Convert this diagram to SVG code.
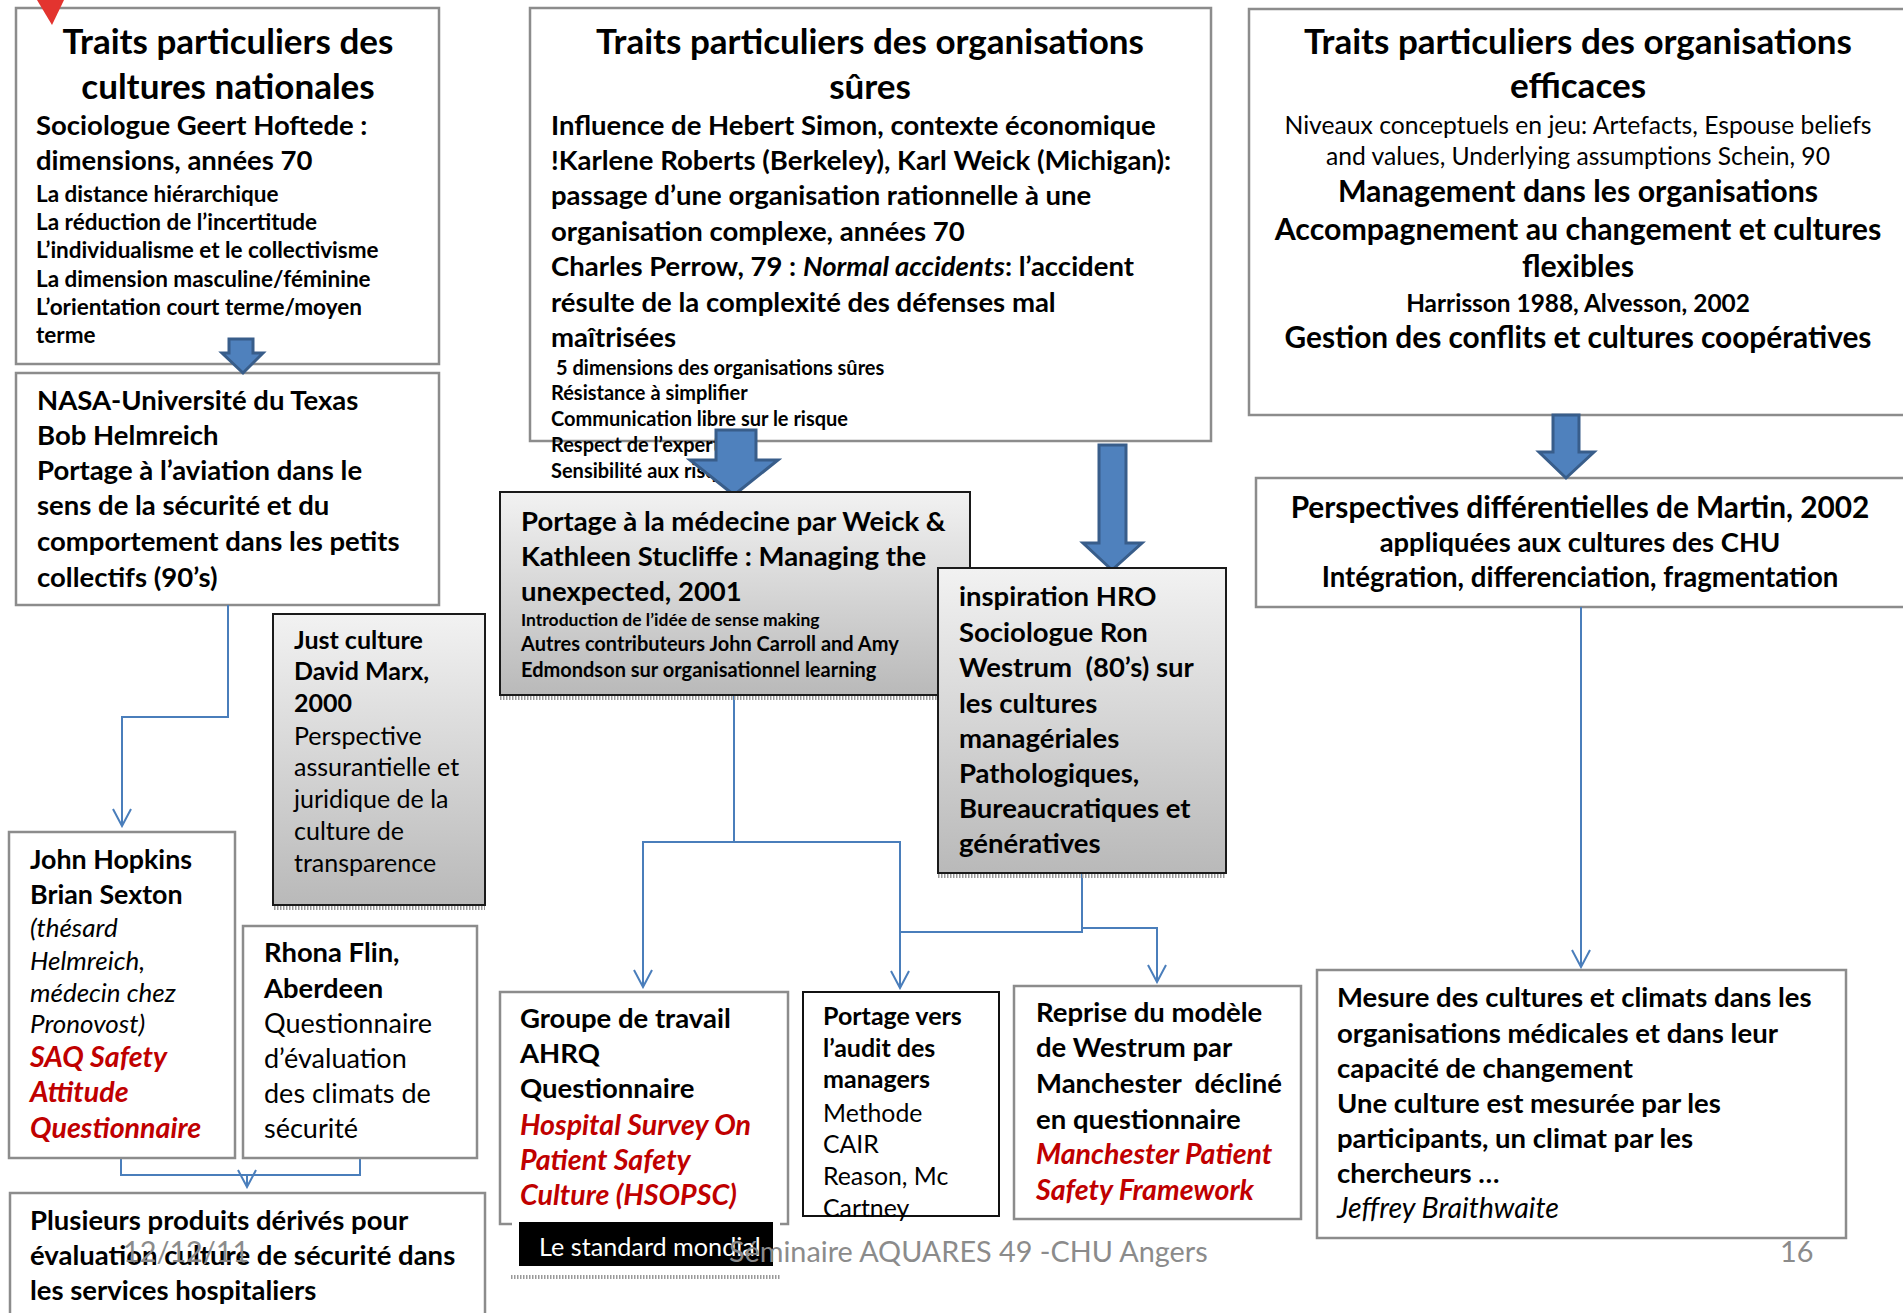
<svg xmlns="http://www.w3.org/2000/svg" width="1903" height="1313" viewBox="0 0 1903 1313">
<defs>
<linearGradient id="g" x1="0" y1="0" x2="0" y2="1">
<stop offset="0" stop-color="#f2f2f2"/>
<stop offset="1" stop-color="#b9b9b9"/>
</linearGradient>
<marker id="v" viewBox="-19 -11 21 22" refX="0" refY="0" markerWidth="21" markerHeight="22" markerUnits="userSpaceOnUse" orient="auto">
<path d="M-17,-9 L0,0 L-17,9" fill="none" stroke="#4a7ebb" stroke-width="2"/>
</marker>
<style>
text{font-family:Lato,"Open Sans","Liberation Sans",sans-serif;fill:#000}
.b{font-weight:bold}
.i{font-style:italic}
.red{fill:#c00000}
.c{text-anchor:middle}
.ti{font-size:35px;font-weight:bold}
.m{font-size:27.5px;font-weight:bold}
.s{font-size:20px;font-weight:bold}
.s1{font-size:22.5px;font-weight:bold}
.box{fill:#fff;stroke:#8c8c8c;stroke-width:2.5}
.gbox{fill:url(#g);stroke:#1a1a1a;stroke-width:2}
.shd{stroke:#9a9a9a;stroke-width:4;stroke-dasharray:1.5 1.5;fill:none}
.conn{fill:none;stroke:#4a7ebb;stroke-width:2}
.blk{fill:#4f81bd;stroke:#385d8a;stroke-width:3}
.ft{font-size:28.8px;fill:#8b8b8b}
.bd{font-size:27.5px;font-weight:bold}
.rd{font-size:28.6px;font-weight:bold;font-style:italic;fill:#c00000}
</style>
</defs>
<rect width="1903" height="1313" fill="#fff"/>

<g id="n-cultures-nationales">
<rect class="box" x="16" y="8" width="423" height="356"/>
<text class="ti c" x="228" y="54">Traits particuliers des</text>
<text class="ti c" x="228" y="99">cultures nationales</text>
<text class="m" x="36" y="135">Sociologue Geert Hoftede :</text>
<text class="m" x="36" y="170">dimensions, années 70</text>
<text class="s1" x="36" y="202">La distance hiérarchique</text>
<text class="s1" x="36" y="230">La réduction de l’incertitude</text>
<text class="s1" x="36" y="258">L’individualisme et le collectivisme</text>
<text class="s1" x="36" y="287">La dimension masculine/féminine</text>
<text class="s1" x="36" y="315">L’orientation court terme/moyen</text>
<text class="s1" x="36" y="343">terme</text>
</g>
<polygon points="37,0 64,0 52,25" fill="#e3342f"/>

<g id="n-nasa">
<rect class="box" x="16" y="373" width="423" height="232"/>
<text class="m" x="37" y="410">NASA-Université du Texas</text>
<text class="m" x="37" y="445">Bob Helmreich</text>
<text class="m" x="37" y="480">Portage à l’aviation dans le</text>
<text class="m" x="37" y="515">sens de la sécurité et du</text>
<text class="m" x="37" y="551">comportement dans les petits</text>
<text class="m" x="37" y="587">collectifs (90’s)</text>
</g>

<g id="n-organisations-sures">
<rect class="box" x="530" y="8" width="681" height="433"/>
<text class="ti c" x="870" y="54">Traits particuliers des organisations</text>
<text class="ti c" x="870" y="99">sûres</text>
<text class="m" x="551" y="135">Influence de Hebert Simon, contexte économique</text>
<text class="m" x="551" y="170">!Karlene Roberts (Berkeley), Karl Weick (Michigan):</text>
<text class="m" x="551" y="205">passage d’une organisation rationnelle à une</text>
<text class="m" x="551" y="241">organisation complexe, années 70</text>
<text class="m" x="551" y="276">Charles Perrow, 79 : <tspan class="i">Normal accidents</tspan>: l’accident</text>
<text class="m" x="551" y="312">résulte de la complexité des défenses mal</text>
<text class="m" x="551" y="347">maîtrisées</text>
<text class="s" x="556" y="375">5 dimensions des organisations sûres</text>
<text class="s" x="551" y="400">Résistance à simplifier</text>
<text class="s" x="551" y="426">Communication libre sur le risque</text>
<text class="s" x="551" y="452">Respect de l’expertise</text>
<text class="s" x="551" y="478">Sensibilité aux risques</text>
</g>

<g id="n-organisations-efficaces">
<rect class="box" x="1249" y="9" width="665" height="406"/>
<text class="ti c" x="1578" y="54">Traits particuliers des organisations</text>
<text class="ti c" x="1578" y="98">efficaces</text>
<text class="c" x="1578" y="134" style="font-size:24.7px">Niveaux conceptuels en jeu: Artefacts, Espouse beliefs</text>
<text class="c" x="1578" y="165" style="font-size:24.7px">and values, Underlying assumptions Schein, 90</text>
<text class="b c" x="1578" y="202" style="font-size:30.3px">Management dans les organisations</text>
<text class="b c" x="1578" y="240" style="font-size:30.3px">Accompagnement au changement et cultures</text>
<text class="b c" x="1578" y="277" style="font-size:30.3px">flexibles</text>
<text class="b c" x="1578" y="312" style="font-size:24.4px">Harrisson 1988, Alvesson, 2002</text>
<text class="b c" x="1578" y="348" style="font-size:29.8px">Gestion des conflits et cultures coopératives</text>
</g>

<g id="n-martin">
<rect class="box" x="1256" y="478" width="660" height="129"/>
<text class="b c" x="1580" y="518" style="font-size:29.8px">Perspectives différentielles de Martin, 2002</text>
<text class="b c" x="1580" y="552" style="font-size:27.4px">appliquées aux cultures des CHU</text>
<text class="b c" x="1580" y="587" style="font-size:27.6px">Intégration, differenciation, fragmentation</text>
</g>

<g id="connectors">
<path class="blk" d="M229,339 H253 V353 H263 L243,373 L222,353 H229 Z"/>
<path class="blk" d="M716,430 H756 V460 H778 L734,495 L690,460 H716 Z"/>
<path class="blk" d="M1099,445 H1126 V543 H1142 L1112,570 L1083,543 H1099 Z"/>
<path class="blk" d="M1553,415 H1579 V452 H1594 L1566,478 L1539,452 H1553 Z"/>
<path class="conn" d="M228,605 V717 H122 V826" marker-end="url(#v)"/>
<path class="conn" d="M734,695 V842 H643 V987" marker-end="url(#v)"/>
<path class="conn" d="M734,842 H900 V988" marker-end="url(#v)"/>
<path class="conn" d="M1082,873 V932 H900"/>
<path class="conn" d="M1082,928 H1157 V982" marker-end="url(#v)"/>
<path class="conn" d="M1581,607 V967" marker-end="url(#v)"/>
<path class="conn" d="M121,1158 V1175 H360 V1158"/>
<path class="conn" d="M247,1175 V1187" marker-end="url(#v)"/>
</g>

<g id="n-portage-medecine">
<line class="shd" x1="500" y1="698" x2="940" y2="698"/>
<rect class="gbox" x="500" y="492" width="470" height="203"/>
<text class="m" x="521" y="531">Portage à la médecine par Weick &amp;</text>
<text class="m" x="521" y="566">Kathleen Stucliffe : Managing the</text>
<text class="m" x="521" y="601">unexpected, 2001</text>
<text class="b" x="521" y="626" style="font-size:17.5px">Introduction de l’idée de sense making</text>
<text class="b" x="521" y="651" style="font-size:20px">Autres contributeurs John Carroll and Amy</text>
<text class="b" x="521" y="677" style="font-size:20px">Edmondson sur organisationnel learning</text>
</g>

<g id="n-hro">
<line class="shd" x1="938" y1="876" x2="1226" y2="876"/>
<rect class="gbox" x="938" y="568" width="288" height="305"/>
<text class="bd" x="959" y="606">inspiration HRO</text>
<text class="bd" x="959" y="642">Sociologue Ron</text>
<text class="bd" x="959" y="677" xml:space="preserve">Westrum  (80’s) sur</text>
<text class="bd" x="959" y="713">les cultures</text>
<text class="bd" x="959" y="748">managériales</text>
<text class="bd" x="959" y="783">Pathologiques,</text>
<text class="bd" x="959" y="818">Bureaucratiques et</text>
<text class="bd" x="959" y="853">génératives</text>
</g>

<g id="n-just-culture">
<line class="shd" x1="274" y1="908" x2="485" y2="908"/>
<rect class="gbox" x="273" y="614" width="212" height="291"/>
<text class="b" x="294" y="649" style="font-size:25px">Just culture</text>
<text class="b" x="294" y="680" style="font-size:25px">David Marx,</text>
<text class="b" x="294" y="712" style="font-size:25px">2000</text>
<text x="294" y="745" style="font-size:25px">Perspective</text>
<text x="294" y="776" style="font-size:25px">assurantielle et</text>
<text x="294" y="808" style="font-size:25px">juridique de la</text>
<text x="294" y="840" style="font-size:25px">culture de</text>
<text x="294" y="872" style="font-size:25px">transparence</text>
</g>

<g id="n-john-hopkins">
<rect class="box" x="9" y="832" width="226" height="326"/>
<text class="b" x="30" y="869" style="font-size:26.8px">John Hopkins</text>
<text class="b" x="30" y="904" style="font-size:26.8px">Brian Sexton</text>
<text class="i" x="30" y="937" style="font-size:26px">(thésard</text>
<text class="i" x="30" y="970" style="font-size:26px">Helmreich,</text>
<text class="i" x="30" y="1002" style="font-size:26px">médecin chez</text>
<text class="i" x="30" y="1033" style="font-size:26px">Pronovost)</text>
<text class="rd" x="30" y="1067">SAQ Safety</text>
<text class="rd" x="30" y="1102">Attitude</text>
<text class="rd" x="30" y="1138">Questionnaire</text>
</g>

<g id="n-rhona-flin">
<rect class="box" x="243" y="926" width="234" height="232"/>
<text class="b" x="264" y="962" style="font-size:27.4px">Rhona Flin,</text>
<text class="b" x="264" y="998" style="font-size:27.4px">Aberdeen</text>
<text x="264" y="1033" style="font-size:27px">Questionnaire</text>
<text x="264" y="1068" style="font-size:27px">d’évaluation</text>
<text x="264" y="1103" style="font-size:27px">des climats de</text>
<text x="264" y="1138" style="font-size:27px">sécurité</text>
</g>

<g id="n-plusieurs-produits">
<rect class="box" x="10" y="1193" width="475" height="130"/>
<text class="bd" x="30" y="1230">Plusieurs produits dérivés pour</text>
<text class="bd" x="30" y="1265">évaluation culture de sécurité dans</text>
<text class="bd" x="30" y="1300">les services hospitaliers</text>
</g>

<g id="n-ahrq">
<rect class="box" x="500" y="992" width="288" height="232"/>
<text class="bd" x="520" y="1028">Groupe de travail</text>
<text class="bd" x="520" y="1063">AHRQ</text>
<text class="bd" x="520" y="1098">Questionnaire</text>
<text class="rd" x="520" y="1135">Hospital Survey On</text>
<text class="rd" x="520" y="1170">Patient Safety</text>
<text class="rd" x="520" y="1205">Culture (HSOPSC)</text>
</g>

<g id="n-standard-mondial">
<line class="shd" x1="511" y1="1277" x2="780" y2="1277"/>
<rect x="512" y="1217" width="268" height="56" fill="#fff"/>
<rect x="519" y="1222" width="254" height="44" fill="#000"/>
<text x="539" y="1256" style="font-size:25.2px;fill:#fff">Le standard mondial</text>
</g>

<g id="n-audit-managers">
<rect x="803" y="992" width="196" height="224" fill="#fff" stroke="#111" stroke-width="2"/>
<text class="b" x="823" y="1025" style="font-size:25px">Portage vers</text>
<text class="b" x="823" y="1057" style="font-size:25px">l’audit des</text>
<text class="b" x="823" y="1088" style="font-size:25px">managers</text>
<text x="823" y="1122" style="font-size:24.8px">Methode</text>
<text x="823" y="1153" style="font-size:24.8px">CAIR</text>
<text x="823" y="1185" style="font-size:24.8px">Reason, Mc</text>
<text x="823" y="1217" style="font-size:24.8px">Cartney</text>
</g>

<g id="n-manchester">
<rect class="box" x="1014" y="986" width="287" height="233"/>
<text class="bd" x="1036" y="1022">Reprise du modèle</text>
<text class="bd" x="1036" y="1057">de Westrum par</text>
<text class="bd" x="1036" y="1093" xml:space="preserve">Manchester  décliné</text>
<text class="bd" x="1036" y="1129">en questionnaire</text>
<text class="rd" x="1036" y="1164">Manchester Patient</text>
<text class="rd" x="1036" y="1200">Safety Framework</text>
</g>

<g id="n-mesure">
<rect class="box" x="1317" y="970" width="529" height="268"/>
<text class="bd" x="1337" y="1007">Mesure des cultures et climats dans les</text>
<text class="bd" x="1337" y="1043">organisations médicales et dans leur</text>
<text class="bd" x="1337" y="1078">capacité de changement</text>
<text class="bd" x="1337" y="1113">Une culture est mesurée par les</text>
<text class="bd" x="1337" y="1148">participants, un climat par les</text>
<text class="bd" x="1337" y="1183">chercheurs …</text>
<text class="i" x="1337" y="1218" style="font-size:28.6px">Jeffrey Braithwaite</text>
</g>

<g id="footer">
<text class="ft" x="123" y="1262">12/12/11</text>
<text class="ft" x="729" y="1262">Séminaire AQUARES 49 -CHU Angers</text>
<text class="ft" x="1780" y="1262">16</text>
</g>
</svg>
